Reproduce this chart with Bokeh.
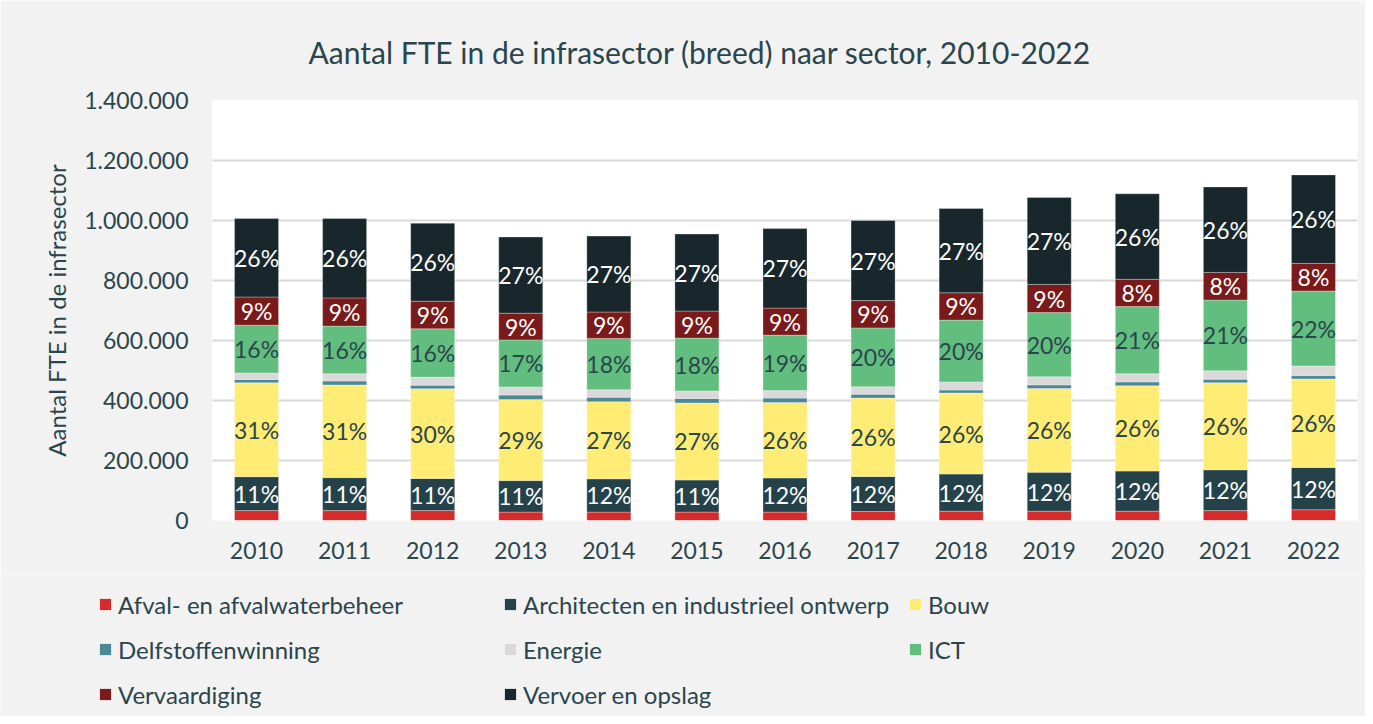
from bokeh.plotting import figure
from bokeh.models import ColumnDataSource, FactorRange, Range1d, FixedTicker, Legend
from bokeh.layouts import column
from bokeh.core.properties import value
from bokeh.embed import file_html
from bokeh.resources import INLINE
import numpy as np

years = ["2010", "2011", "2012", "2013", "2014", "2015", "2016", "2017", "2018", "2019", "2020", "2021", "2022"]

afval = [33000, 33000, 33000, 28000, 28000, 28000, 28000, 30000, 31000, 31000, 31000, 33000, 36000]
architecten = [113000, 110000, 107000, 105000, 111000, 107000, 114000, 117000, 124000, 130000, 134000, 136000, 141000]
bouw = [313000, 309000, 299000, 270000, 257000, 257000, 251000, 261000, 270000, 279000, 284000, 290000, 295000]
delfstoffen = [11000, 13000, 12000, 15000, 15000, 15000, 15000, 13000, 10000, 12000, 13000, 12000, 11000]
energie = [22000, 24000, 27000, 27000, 25000, 25000, 25000, 25000, 27000, 27000, 27000, 28000, 32000]
ict = [159000, 159000, 161000, 157000, 171000, 176000, 185000, 196000, 206000, 214000, 224000, 236000, 250000]
vervaardiging = [94000, 94000, 92000, 89000, 88000, 90000, 90000, 91000, 91000, 94000, 91000, 92000, 92000]
vervoer = [262000, 265000, 260000, 254000, 253000, 257000, 265000, 267000, 281000, 290000, 285000, 285000, 295000]

pct_architecten = ["11%", "11%", "11%", "11%", "12%", "11%", "12%", "12%", "12%", "12%", "12%", "12%", "12%"]
pct_bouw = ["31%", "31%", "30%", "29%", "27%", "27%", "26%", "26%", "26%", "26%", "26%", "26%", "26%"]
pct_ict = ["16%", "16%", "16%", "17%", "18%", "18%", "19%", "20%", "20%", "20%", "21%", "21%", "22%"]
pct_vervaardiging = ["9%", "9%", "9%", "9%", "9%", "9%", "9%", "9%", "9%", "9%", "8%", "8%", "8%"]
pct_vervoer = ["26%", "26%", "26%", "27%", "27%", "27%", "27%", "27%", "27%", "27%", "26%", "26%", "26%"]

series_names = ["Afval- en afvalwaterbeheer", "Architecten en industrieel ontwerp", "Bouw",
                "Delfstoffenwinning", "Energie", "ICT", "Vervaardiging", "Vervoer en opslag"]
series_keys = ["afval", "architecten", "bouw", "delfstoffen", "energie", "ict", "vervaardiging", "vervoer"]
colors = ["#d42b2b", "#25424a", "#ffec75", "#4a8896", "#d9d9d9", "#62be7e", "#7a1a1a", "#18272c"]

y_ticks = [0, 200000, 400000, 600000, 800000, 1000000, 1200000, 1400000]
y_tick_labels = ["0", "200.000", "400.000", "600.000", "800.000", "1.000.000", "1.200.000", "1.400.000"]

FONT = "Lato"
TXT = "#2a454c"
BG = "#f2f2f2"

data = dict(year=years, afval=afval, architecten=architecten, bouw=bouw, delfstoffen=delfstoffen,
            energie=energie, ict=ict, vervaardiging=vervaardiging, vervoer=vervoer)
source = ColumnDataSource(data)

W = 1365
H_MAIN = 575
H_LEG = 141

p = figure(x_range=FactorRange(factors=years, range_padding=0), y_range=Range1d(0, 1400000),
           width=W, height=H_MAIN, output_backend="svg", toolbar_location=None,
           min_border_left=212, min_border_right=8, min_border_top=99, min_border_bottom=H_MAIN - 520)

p.background_fill_color = "white"
p.border_fill_color = BG
p.outline_line_color = None

renderers = p.vbar_stack(series_keys, x="year", width=0.5, color=colors, source=source,
                         line_color="white", line_width=0.6, line_alpha=0.5)

# labels
stack = np.array([afval, architecten, bouw, delfstoffen, energie, ict, vervaardiging, vervoer], dtype=float)
cum = np.cumsum(stack, axis=0)
bottoms = cum - stack
mids = bottoms + stack / 2

label_specs = [(1, pct_architecten, "white"), (2, pct_bouw, TXT), (5, pct_ict, TXT),
               (6, pct_vervaardiging, "white"), (7, pct_vervoer, "white")]
for idx, labels, col in label_specs:
    ls = ColumnDataSource(dict(x=years, y=list(mids[idx]), t=labels))
    p.text(x="x", y="y", text="t", source=ls, text_align="center", text_baseline="middle",
           text_font=value(FONT), text_font_size="23px", text_color=col)

# title
p.title.text = "Aantal FTE in de infrasector (breed) naar sector, 2010-2022"
p.title.align = "left"
p.title.offset = 96
p.title.text_font = FONT
p.title.text_font_size = "30px"
p.title.text_font_style = "normal"
p.title.text_color = TXT
p.title.standoff = 62

# axes
p.yaxis.ticker = FixedTicker(ticks=y_ticks)
p.yaxis.major_label_overrides = {t: l for t, l in zip(y_ticks, y_tick_labels)}
p.yaxis.axis_label = "Aantal FTE in de infrasector"
p.yaxis.axis_label_text_font = FONT
p.yaxis.axis_label_text_font_size = "24px"
p.yaxis.axis_label_text_font_style = "normal"
p.yaxis.axis_label_text_color = TXT
p.yaxis.axis_label_standoff = 10
p.yaxis.major_label_standoff = 18
for ax in (p.xaxis, p.yaxis):
    ax.axis_line_color = None
    ax.major_tick_line_color = None
    ax.minor_tick_line_color = None
    ax.major_label_text_font = FONT
    ax.major_label_text_font_size = "23px"
    ax.major_label_text_color = TXT
p.xaxis.major_label_standoff = 15

p.xgrid.grid_line_color = None
p.ygrid.grid_line_color = "#d9d9d9"
p.ygrid.grid_line_width = 2

# legend panel: a second plot with hidden copies of the bars, only its legend shows
q = figure(width=W, height=H_LEG, x_range=FactorRange(factors=years), y_range=Range1d(0, 1400000),
           output_backend="svg", toolbar_location=None,
           min_border_left=0, min_border_right=0, min_border_top=0, min_border_bottom=0)
q.axis.visible = False
q.grid.visible = False
q.background_fill_color = BG
q.border_fill_color = BG
q.outline_line_color = None

for fig in (p, q):
    try:
        fig.frame_align = False
    except Exception:
        pass

leg_renderers = q.vbar_stack(series_keys, x="year", width=0.5, color=colors, source=source, line_color=None)
for r in leg_renderers:
    r.visible = False

legend = Legend(items=[(n, [r]) for n, r in zip(series_names, leg_renderers)],
                location=(98, 7), orientation="horizontal", ncols=3,
                glyph_width=14, glyph_height=14, label_standoff=6, label_width=370, label_height=30,
                spacing=15, padding=0, margin=0,
                label_text_font=FONT, label_text_font_size="24px", label_text_color=TXT,
                inactive_fill_alpha=0,
                background_fill_alpha=0, border_line_alpha=0)
q.add_layout(legend, "center")

layout = column(p, q, spacing=0)
open("out.html", "w").write(file_html(layout, INLINE))
